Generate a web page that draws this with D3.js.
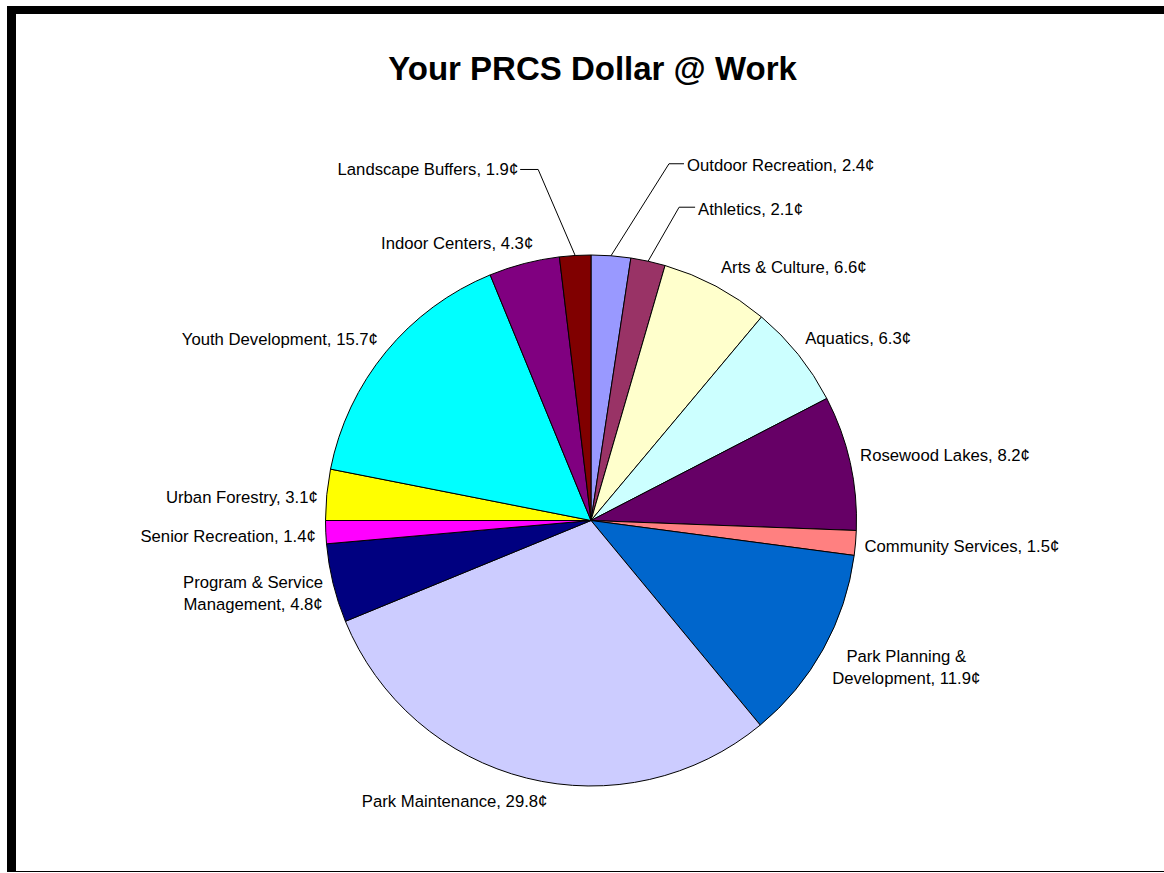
<!DOCTYPE html>
<html>
<head>
<meta charset="utf-8">
<script src="https://cdn.jsdelivr.net/npm/d3@7"></script>
<style>
  body { margin: 0; background: #fff; }
  svg { display: block; font-family: Arial, "Liberation Sans", sans-serif; }
</style>
</head>
<body>
<div id="chart"></div>
<script>
// slices, clockwise from 12 o'clock
const categories = [
    "Outdoor Recreation", "Athletics", "Arts & Culture", "Aquatics",
    "Rosewood Lakes", "Community Services", "Park Planning & Development",
    "Park Maintenance", "Program & Service Management", "Senior Recreation",
    "Urban Forestry", "Youth Development", "Indoor Centers", "Landscape Buffers"
];
const cents = [2.4, 2.1, 6.6, 6.3, 8.2, 1.5, 11.9, 29.8, 4.8, 1.4, 3.1, 15.7, 4.3, 1.9];
const sliceColors = [
    "#9999FF", "#993366", "#FFFFCC", "#CCFFFF", "#660066", "#FF8080", "#0066CC",
    "#CCCCFF", "#000080", "#FF00FF", "#FFFF00", "#00FFFF", "#800080", "#800000"
];
// label text lines (Excel wraps the two long ones)
const labelLines = [
    ["Outdoor Recreation, 2.4¢"], ["Athletics, 2.1¢"], ["Arts & Culture, 6.6¢"],
    ["Aquatics, 6.3¢"], ["Rosewood Lakes, 8.2¢"], ["Community Services, 1.5¢"],
    ["Park Planning &", "Development, 11.9¢"], ["Park Maintenance, 29.8¢"],
    ["Program & Service", "Management, 4.8¢"], ["Senior Recreation, 1.4¢"],
    ["Urban Forestry, 3.1¢"], ["Youth Development, 15.7¢"], ["Indoor Centers, 4.3¢"],
    ["Landscape Buffers, 1.9¢"]
];

// label placement relative to the point where the slice middle meets the rim
// [anchor, dx, dy, elbow dx, elbow dy] -- elbow only for the ones with leader lines
const labelPlace = [
    ["start", 76, -91, 58, -92],
    ["start", 50, -52, 31, -54],
    ["start", 5, -19],
    ["start", 7, -16],
    ["start", 10, -7],
    ["start", 9, 3.5],
    ["middle", 83, 7],
    ["middle", -72, 23],
    ["middle", -80, -1],
    ["end", -10, 4],
    ["end", -9, 2],
    ["end", -8, -13],
    ["end", 9, -20.5],
    ["end", -57, -86, -37, -86]
];

const width = 1164, height = 873;
const cx = 591, cy = 520.5, radius = 265.5;
const fontSize = 16.7;

const svg = d3.select("#chart").append("svg")
    .attr("width", width)
    .attr("height", height);

// frame: thick top and left, thin bottom
svg.append("rect").attr("x", 7).attr("y", 6).attr("width", width - 7).attr("height", 8).attr("fill", "#000");
svg.append("rect").attr("x", 7).attr("y", 6).attr("width", 9).attr("height", 866).attr("fill", "#000");
svg.append("line")
    .attr("x1", 7).attr("x2", width)
    .attr("y1", 871.5).attr("y2", 871.5)
    .attr("stroke", "#000").attr("stroke-width", 1);

svg.append("text")
    .attr("x", 592.5)
    .attr("y", 80)
    .attr("text-anchor", "middle")
    .attr("font-size", 33)
    .attr("font-weight", "bold")
    .text("Your PRCS Dollar @ Work");

const rows = categories.map((c, i) => ({ name: c, value: cents[i], color: sliceColors[i], lines: labelLines[i], place: labelPlace[i] }));

const pie = d3.pie().sort(null).value(d => d.value);
const arcs = pie(rows);
const arc = d3.arc().innerRadius(0).outerRadius(radius);

const g = svg.append("g").attr("transform", `translate(${cx},${cy})`);

g.selectAll("path.slice")
    .data(arcs)
    .join("path")
    .attr("class", "slice")
    .attr("d", arc)
    .attr("fill", d => d.data.color)
    .attr("stroke", "#000")
    .attr("stroke-width", 1)
    .attr("stroke-linejoin", "round");

// point on rim at the middle of each slice
function rimPoint(d) {
    const a = (d.startAngle + d.endAngle) / 2;
    return [radius * Math.sin(a), -radius * Math.cos(a)];
}

// leader lines
arcs.forEach(d => {
    const p = d.data.place;
    if (p.length < 5) return;
    const [x0, y0] = rimPoint(d);
    const ex = x0 + p[3], ey = y0 + p[4];
    const tx = x0 + p[1] + (p[0] === "start" ? -3 : 2);
    g.append("path")
        .attr("d", `M${x0},${y0}L${ex},${ey}L${tx},${ey}`)
        .attr("fill", "none")
        .attr("stroke", "#000")
        .attr("stroke-width", 1);
});

const labels = g.selectAll("text.lbl")
    .data(arcs)
    .join("text")
    .attr("class", "lbl")
    .attr("font-size", fontSize)
    .attr("fill", "#000")
    .attr("text-anchor", d => d.data.place[0])
    .each(function(d) {
        const [x0, y0] = rimPoint(d);
        const p = d.data.place;
        d3.select(this).selectAll("tspan")
            .data(d.data.lines)
            .join("tspan")
            .attr("x", x0 + p[1])
            .attr("y", (l, i) => y0 + p[2] + i * 22)
            .attr("dy", "0.35em")
            .text(l => l);
    });
</script>
</body>
</html>
